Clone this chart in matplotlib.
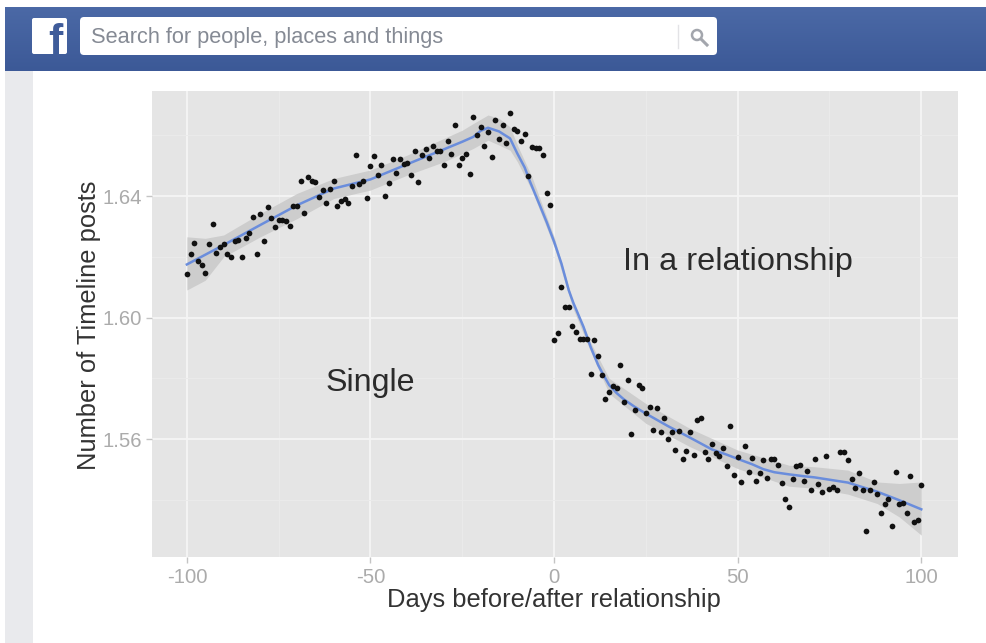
import numpy as np
import matplotlib
matplotlib.use('Agg')
import matplotlib.pyplot as plt
from matplotlib.patches import Rectangle, FancyBboxPatch, Circle

plt.rcParams['font.family'] = ['Liberation Sans', 'DejaVu Sans']

# daily averages, day -100 to day 100
days = list(range(-100, 101))
posts = [
    1.6143, 1.6210, 1.6246, 1.6187, 1.6173, 1.6146, 1.6243, 1.6307, 1.6212, 1.6231,
    1.6241, 1.6208, 1.6201, 1.6253, 1.6256, 1.6201, 1.6263, 1.6279, 1.6331, 1.6211,
    1.6341, 1.6253, 1.6364, 1.6328, 1.6297, 1.6320, 1.6321, 1.6318, 1.6302, 1.6367,
    1.6368, 1.6450, 1.6343, 1.6464, 1.6450, 1.6446, 1.6397, 1.6420, 1.6377, 1.6422,
    1.6450, 1.6368, 1.6384, 1.6392, 1.6378, 1.6432, 1.6534, 1.6441, 1.6450, 1.6393,
    1.6498, 1.6531, 1.6470, 1.6501, 1.6400, 1.6442, 1.6521, 1.6475, 1.6522, 1.6505,
    1.6509, 1.6469, 1.6550, 1.6447, 1.6535, 1.6556, 1.6526, 1.6565, 1.6547, 1.6547,
    1.6504, 1.6580, 1.6539, 1.6635, 1.6502, 1.6527, 1.6540, 1.6472, 1.6660, 1.6600,
    1.6629, 1.6564, 1.6611, 1.6530, 1.6650, 1.6588, 1.6633, 1.6576, 1.6675, 1.6622,
    1.6615, 1.6582, 1.6604, 1.6465, 1.6562, 1.6557, 1.6560, 1.6535, 1.6411, 1.6371,
    1.5925, 1.5951, 1.6101, 1.6036, 1.6036, 1.5972, 1.5952, 1.5929, 1.5929, 1.5931,
    1.5816, 1.5927, 1.5873, 1.5810, 1.5731, 1.5755, 1.5776, 1.5767, 1.5844, 1.5722,
    1.5796, 1.5616, 1.5697, 1.5779, 1.5767, 1.5687, 1.5705, 1.5631, 1.5703, 1.5624,
    1.5668, 1.5602, 1.5624, 1.5563, 1.5626, 1.5534, 1.5560, 1.5624, 1.5549, 1.5662,
    1.5670, 1.5558, 1.5536, 1.5585, 1.5553, 1.5546, 1.5571, 1.5510, 1.5642, 1.5483,
    1.5540, 1.5458, 1.5577, 1.5491, 1.5538, 1.5463, 1.5487, 1.5531, 1.5472, 1.5536,
    1.5534, 1.5515, 1.5455, 1.5404, 1.5376, 1.5470, 1.5510, 1.5515, 1.5463, 1.5495,
    1.5431, 1.5536, 1.5453, 1.5427, 1.5545, 1.5435, 1.5442, 1.5433, 1.5558, 1.5558,
    1.5531, 1.5468, 1.5438, 1.5489, 1.5434, 1.5298, 1.5432, 1.5459, 1.5418, 1.5358,
    1.5385, 1.5402, 1.5315, 1.5492, 1.5385, 1.5391, 1.5356, 1.5479, 1.5328, 1.5333,
    1.5449,
]

# smoother line
line_days = [-100, -90, -80, -70, -60, -50, -40, -30, -25, -22, -20, -18, -15, -12,
             -10, -8, -6.5, -4, -2, 0, 2, 4, 5.3, 8, 10, 12, 13, 15, 17, 19, 22, 25, 31,
             37, 43, 47, 50, 54, 57, 60, 64, 68, 71, 80, 88, 94, 100]
line_posts = [1.6175, 1.6239, 1.6305, 1.6370, 1.6425, 1.6455, 1.6505, 1.6554, 1.6579,
              1.6595, 1.6615, 1.6625, 1.6613, 1.6590, 1.6540, 1.6494, 1.6446, 1.6373,
              1.6314, 1.6250, 1.6178, 1.6090, 1.6047, 1.5970, 1.5902, 1.5844, 1.5821,
              1.5778, 1.5752, 1.5731, 1.5706, 1.5684, 1.5643, 1.5605, 1.5566, 1.5549,
              1.5535, 1.5517, 1.5501, 1.5491, 1.5484, 1.5478, 1.5474, 1.5457, 1.5427,
              1.5399, 1.5369]

# confidence band
band_days = [-100, -95, -90, -80, -70, -60, -50, -40, -30, -25, -22, -18, -15, -12,
             -10, -6, 0, 5, 10, 15, 25, 37, 50, 64, 71, 80, 88, 94, 100]
band_upper = [1.6266, 1.6261, 1.6272, 1.6343, 1.6409, 1.6458, 1.6486, 1.6535, 1.6590,
              1.6617, 1.6639, 1.6667, 1.6656, 1.6628, 1.6568, 1.6462, 1.6266, 1.6059,
              1.5917, 1.5800, 1.5717, 1.5635, 1.5564, 1.5514, 1.5509, 1.5498, 1.5459,
              1.5454, 1.5459]
band_lower = [1.6091, 1.6123, 1.6200, 1.6266, 1.6326, 1.6392, 1.6420, 1.6469, 1.6513,
              1.6540, 1.6557, 1.6584, 1.6568, 1.6551, 1.6513, 1.6418, 1.6234, 1.6035,
              1.5887, 1.5750, 1.5652, 1.5575, 1.5503, 1.5445, 1.5438, 1.5419, 1.5388,
              1.5344, 1.5284]

x_ticks = [-100, -50, 0, 50, 100]
x_minor = [-75, -25, 25, 75]
y_ticks = [1.56, 1.60, 1.64]
y_minor = [1.54, 1.58, 1.62, 1.66]

W, H = 986, 643
fig = plt.figure(figsize=(W / 100, H / 100), dpi=100, facecolor='white')

# page behind the plot, in pixels
bg = fig.add_axes([0, 0, 1, 1])
bg.set_xlim(0, W)
bg.set_ylim(H, 0)
bg.axis('off')
bg.add_patch(Rectangle((5, 71), 28, H - 71, fc='#e9eaed', ec='none'))
grad = np.linspace(0, 1, 64).reshape(-1, 1)
bg.imshow(grad, extent=[5, W, 71, 7], aspect='auto', zorder=1,
          cmap=matplotlib.colors.LinearSegmentedColormap.from_list(
              'fb', ['#4b69a6', '#3c5997']))
bg.set_xlim(0, W)
bg.set_ylim(H, 0)
bg.add_patch(FancyBboxPatch((83, 20), 631, 32, boxstyle='round,pad=3,rounding_size=4',
                            fc='white', ec='none', zorder=2))
bg.add_patch(FancyBboxPatch((34, 20), 31, 32, boxstyle='round,pad=2,rounding_size=2',
                            fc='white', ec='none', zorder=2))
bg.text(55, 54, 'f', fontsize=31, fontweight='bold', color='#3f5c9a', ha='center',
        va='baseline', zorder=3)
bg.text(91, 37, 'Search for people, places and things', fontsize=15.7, color='#858a94',
        ha='left', va='center', zorder=3)
bg.plot([678, 678], [25, 48], color='#e3e3e6', lw=1, zorder=3)
bg.add_patch(Circle((697, 35), 5, fc='none', ec='#a3a6ad', lw=1.8, zorder=3))
bg.plot([701, 707], [39, 45], color='#a3a6ad', lw=2.2, zorder=3)

ax = fig.add_axes([152 / W, 1 - 557 / H, 806 / W, 466 / H])
ax.set_facecolor('#e5e5e5')
ax.set_xlim(-109.5, 110)
ax.set_ylim(1.5212, 1.6746)

ax.set_xticks(x_ticks)
ax.set_xticks(x_minor, minor=True)
ax.set_yticks(y_ticks)
ax.set_yticks(y_minor, minor=True)
ax.set_xticklabels(['-100', '-50', '0', '50', '100'])
ax.set_yticklabels(['1.56', '1.60', '1.64'])
ax.grid(True, which='major', color='#f5f5f5', lw=1.3)
ax.grid(True, which='minor', color='#ebebeb', lw=0.7)
ax.set_axisbelow(True)
for s in ax.spines.values():
    s.set_visible(False)
ax.tick_params(which='major', length=4, width=1, color='#c4c4c4', labelcolor='#ababab',
               labelsize=14.7)
ax.tick_params(axis='x', which='major', pad=4)
ax.tick_params(axis='y', which='major', pad=3)
ax.tick_params(which='minor', length=0)

ax.fill_between(band_days, band_lower, band_upper, color='#c9c9c9', alpha=0.85, lw=0, zorder=2)
ax.plot(line_days, line_posts, color='#6a8ddc', lw=1.8, zorder=3)
ax.scatter(days, posts, s=17, color='#111111', lw=0, zorder=4)

ax.text(-50, 1.5784, 'Single', fontsize=23.2, color='#2b2b2b', ha='center', va='center')
ax.text(50, 1.6183, 'In a relationship', fontsize=23.4, color='#2b2b2b', ha='center', va='center')

fig.text(554 / W, 1 - 600 / H, 'Days before/after relationship', fontsize=18.4, color='#333333',
         ha='center', va='center')
fig.text(89 / W, 1 - 325 / H, 'Number of Timeline posts', fontsize=18.4, color='#333333',
         ha='center', va='center', rotation=90)

fig.savefig('out.png', dpi=100)
